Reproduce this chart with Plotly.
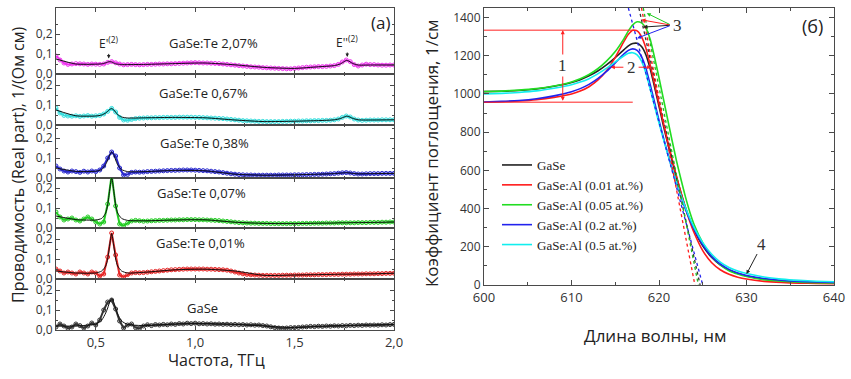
import numpy as np
import plotly.graph_objects as go

# ---------------- (a) THz conductivity, GaSe:Te ----------------
freq = np.round(np.arange(0.30, 2.0001, 0.02), 2)          # THz
fit_freq = [0.30, 0.40, 0.50, 0.53, 0.55, 0.56, 0.57, 0.58, 0.59, 0.60, 0.61, 0.63,
            0.66, 0.75, 0.90, 1.05, 1.20, 1.35, 1.50, 1.62, 1.70, 1.73, 1.75, 1.76,
            1.77, 1.79, 1.82, 1.90, 2.00]

sigma_te207 = [0.090, 0.070, 0.055, 0.048, 0.050, 0.052, 0.051, 0.050, 0.048, 0.050,
               0.049, 0.048, 0.050, 0.058, 0.062, 0.056, 0.050, 0.046, 0.047, 0.048,
               0.047, 0.046, 0.047, 0.048, 0.048, 0.049, 0.050, 0.050, 0.051, 0.051,
               0.052, 0.053, 0.054, 0.055, 0.056, 0.057, 0.056, 0.055, 0.055, 0.054,
               0.053, 0.052, 0.050, 0.048, 0.046, 0.044, 0.042, 0.040, 0.038, 0.036,
               0.035, 0.034, 0.032, 0.031, 0.030, 0.029, 0.028, 0.027, 0.026, 0.026,
               0.028, 0.030, 0.032, 0.034, 0.035, 0.036, 0.037, 0.037, 0.038, 0.040,
               0.042, 0.048, 0.060, 0.070, 0.062, 0.047, 0.040, 0.045, 0.049, 0.047,
               0.047, 0.045, 0.044, 0.044, 0.045, 0.045]
fit_te207 = [0.075, 0.050, 0.049, 0.051, 0.056, 0.060, 0.062, 0.060, 0.055, 0.051, 0.049,
             0.047, 0.047, 0.048, 0.052, 0.055, 0.046, 0.033, 0.028, 0.036, 0.042, 0.050,
             0.062, 0.068, 0.066, 0.054, 0.045, 0.045, 0.045]

sigma_te067 = [0.085, 0.060, 0.048, 0.045, 0.044, 0.046, 0.043, 0.045, 0.047, 0.044,
               0.046, 0.048, 0.055, 0.068, 0.083, 0.065, 0.038, 0.025, 0.024, 0.028,
               0.032, 0.034, 0.035, 0.036, 0.036, 0.037, 0.037, 0.038, 0.038, 0.038,
               0.038, 0.039, 0.039, 0.039, 0.039, 0.038, 0.038, 0.037, 0.036, 0.035,
               0.034, 0.033, 0.032, 0.030, 0.028, 0.026, 0.024, 0.022, 0.021, 0.020,
               0.019, 0.018, 0.018, 0.017, 0.017, 0.017, 0.017, 0.018, 0.018, 0.019,
               0.019, 0.020, 0.020, 0.021, 0.021, 0.022, 0.022, 0.023, 0.023, 0.024,
               0.026, 0.030, 0.038, 0.045, 0.040, 0.030, 0.025, 0.023, 0.024, 0.025,
               0.025, 0.025, 0.026, 0.026, 0.026, 0.026]
fit_te067 = [0.075, 0.046, 0.045, 0.050, 0.060, 0.068, 0.078, 0.082, 0.076, 0.064, 0.052,
             0.040, 0.035, 0.036, 0.038, 0.036, 0.025, 0.017, 0.019, 0.022, 0.026, 0.032,
             0.040, 0.044, 0.043, 0.034, 0.026, 0.025, 0.026]

sigma_te038 = [0.060, 0.045, 0.035, 0.030, 0.035, 0.032, 0.028, 0.034, 0.030, 0.035,
               0.032, 0.040, 0.060, 0.100, 0.130, 0.110, 0.050, 0.015, 0.018, 0.028,
               0.030, 0.029, 0.030, 0.032, 0.033, 0.034, 0.035, 0.036, 0.037, 0.038,
               0.038, 0.039, 0.040, 0.040, 0.040, 0.039, 0.038, 0.037, 0.036, 0.034,
               0.032, 0.030, 0.027, 0.024, 0.021, 0.019, 0.017, 0.016, 0.015, 0.015,
               0.014, 0.014, 0.014, 0.014, 0.014, 0.014, 0.015, 0.015, 0.015, 0.015,
               0.016, 0.016, 0.016, 0.017, 0.017, 0.018, 0.018, 0.019, 0.020, 0.021,
               0.022, 0.024, 0.026, 0.027, 0.025, 0.022, 0.020, 0.020, 0.021, 0.022,
               0.022, 0.022, 0.023, 0.023, 0.023, 0.023]
fit_te038 = [0.050, 0.033, 0.034, 0.042, 0.068, 0.090, 0.115, 0.130, 0.118, 0.090, 0.066,
             0.042, 0.032, 0.032, 0.038, 0.036, 0.019, 0.014, 0.016, 0.019, 0.022, 0.024,
             0.026, 0.027, 0.026, 0.023, 0.021, 0.022, 0.023]

sigma_te007 = [0.080, 0.055, 0.040, 0.045, 0.050, 0.040, 0.035, 0.045, 0.055, 0.045,
               0.030, 0.020, 0.030, 0.120, 0.265, 0.110, 0.020, 0.012, 0.025, 0.035,
               0.038, 0.036, 0.034, 0.035, 0.036, 0.037, 0.038, 0.038, 0.039, 0.040,
               0.040, 0.041, 0.041, 0.042, 0.042, 0.042, 0.041, 0.041, 0.040, 0.039,
               0.038, 0.037, 0.035, 0.033, 0.031, 0.029, 0.027, 0.026, 0.025, 0.024,
               0.024, 0.023, 0.023, 0.023, 0.022, 0.022, 0.022, 0.022, 0.022, 0.022,
               0.022, 0.022, 0.023, 0.023, 0.023, 0.024, 0.024, 0.024, 0.025, 0.025,
               0.025, 0.026, 0.026, 0.026, 0.026, 0.026, 0.027, 0.027, 0.027, 0.028,
               0.028, 0.028, 0.029, 0.029, 0.030, 0.030]
fit_te007 = [0.060, 0.042, 0.040, 0.048, 0.075, 0.115, 0.190, 0.255, 0.190, 0.115, 0.075,
             0.048, 0.038, 0.036, 0.040, 0.041, 0.029, 0.023, 0.022, 0.024, 0.025, 0.026,
             0.026, 0.026, 0.026, 0.027, 0.027, 0.028, 0.030]

sigma_te001 = [0.050, 0.040, 0.030, 0.035, 0.030, 0.025, 0.035, 0.030, 0.025, 0.035,
               0.030, 0.015, 0.025, 0.110, 0.230, 0.120, 0.020, 0.010, 0.022, 0.030,
               0.032, 0.031, 0.032, 0.034, 0.036, 0.038, 0.040, 0.042, 0.044, 0.046,
               0.047, 0.048, 0.049, 0.050, 0.050, 0.050, 0.050, 0.050, 0.049, 0.049,
               0.048, 0.047, 0.046, 0.044, 0.040, 0.035, 0.030, 0.026, 0.023, 0.021,
               0.020, 0.019, 0.018, 0.018, 0.018, 0.018, 0.018, 0.019, 0.019, 0.019,
               0.020, 0.020, 0.020, 0.021, 0.021, 0.021, 0.022, 0.022, 0.022, 0.023,
               0.023, 0.023, 0.024, 0.024, 0.024, 0.025, 0.025, 0.025, 0.026, 0.026,
               0.026, 0.027, 0.027, 0.028, 0.028, 0.029]
fit_te001 = [0.040, 0.030, 0.030, 0.040, 0.065, 0.100, 0.170, 0.228, 0.170, 0.100, 0.065,
             0.040, 0.030, 0.034, 0.046, 0.049, 0.040, 0.018, 0.020, 0.022, 0.023, 0.024,
             0.024, 0.024, 0.024, 0.025, 0.025, 0.026, 0.029]

sigma_gase = [0.015, 0.030, 0.020, 0.008, 0.015, 0.030, 0.022, 0.010, 0.020, 0.035,
              0.025, 0.050, 0.100, 0.140, 0.150, 0.105, 0.045, 0.010, 0.025, 0.030,
              0.012, 0.008, 0.020, 0.026, 0.022, 0.027, 0.025, 0.028, 0.026, 0.030,
              0.028, 0.032, 0.030, 0.034, 0.032, 0.034, 0.031, 0.032, 0.030, 0.031,
              0.029, 0.030, 0.028, 0.029, 0.027, 0.028, 0.026, 0.027, 0.025, 0.026,
              0.024, 0.025, 0.022, 0.020, 0.016, 0.012, 0.010, 0.009, 0.010, 0.012,
              0.012, 0.013, 0.015, 0.016, 0.018, 0.017, 0.019, 0.018, 0.020, 0.019,
              0.021, 0.020, 0.022, 0.021, 0.023, 0.022, 0.024, 0.023, 0.025, 0.024,
              0.025, 0.024, 0.026, 0.025, 0.027, 0.028]
fit_gase = [0.020, 0.020, 0.030, 0.050, 0.085, 0.110, 0.140, 0.158, 0.140, 0.110, 0.080,
            0.045, 0.028, 0.022, 0.030, 0.032, 0.028, 0.020, 0.012, 0.018, 0.021, 0.022,
            0.022, 0.022, 0.023, 0.023, 0.024, 0.025, 0.027]

thz_labels = ["GaSe:Te 2,07%", "GaSe:Te 0,67%", "GaSe:Te 0,38%",
              "GaSe:Te 0,07%", "GaSe:Te 0,01%", "GaSe"]
thz_colors = ["#ee33ee", "#33dddd", "#2626cc", "#22cc22", "#e62626", "#333333"]
thz_data = [sigma_te207, sigma_te067, sigma_te038, sigma_te007, sigma_te001, sigma_gase]
thz_fits = [fit_te207, fit_te067, fit_te038, fit_te007, fit_te001, fit_gase]

# ---------------- (б) absorption edge, GaSe:Al ----------------
wl = [600, 602, 604, 606, 608, 610, 611, 612, 613, 614, 615, 616, 616.5, 617, 617.5,
      618, 618.5, 619, 619.5, 620, 620.5, 621, 621.5, 622, 622.5, 623, 623.5, 624,
      625, 626, 627, 628, 629, 630, 632, 634, 636, 638, 640]
alpha_gase = [1012, 1014, 1018, 1026, 1040, 1060, 1075, 1095, 1120, 1152, 1190, 1232,
              1252, 1264, 1265, 1248, 1205, 1130, 1035, 935, 835, 740, 650, 565, 485,
              410, 345, 290, 205, 145, 105, 78, 60, 47, 30, 21, 16, 13, 11]
alpha_al001 = [957, 959, 963, 970, 982, 1000, 1015, 1038, 1072, 1122, 1192, 1275, 1312,
               1334, 1330, 1300, 1240, 1150, 1050, 950, 850, 752, 658, 568, 485, 405,
               335, 275, 180, 118, 80, 56, 41, 31, 19, 13, 10, 8, 7]
alpha_al005 = [1013, 1015, 1020, 1028, 1042, 1063, 1080, 1102, 1132, 1172, 1222, 1290,
               1330, 1362, 1378, 1372, 1345, 1285, 1190, 1085, 975, 865, 755, 650, 555,
               465, 385, 318, 220, 150, 105, 75, 57, 44, 28, 20, 15, 12, 11]
alpha_al02 = [958, 961, 966, 975, 990, 1012, 1028, 1050, 1080, 1118, 1163, 1210, 1228,
              1236, 1228, 1195, 1135, 1048, 955, 862, 772, 688, 608, 535, 465, 400, 343,
              292, 210, 150, 110, 82, 63, 50, 34, 25, 19, 16, 14]
alpha_al05 = [1000, 1003, 1008, 1016, 1030, 1048, 1062, 1080, 1105, 1135, 1168, 1200,
              1213, 1216, 1205, 1172, 1110, 1025, 935, 848, 765, 685, 608, 537, 470, 408,
              352, 302, 222, 162, 120, 92, 73, 60, 42, 31, 24, 20, 17]

abs_names = ["GaSe", "GaSe:Al (0.01 at.%)", "GaSe:Al (0.05 at.%)",
             "GaSe:Al (0.2 at.%)", "GaSe:Al (0.5 at.%)"]
abs_colors = ["#222222", "#ff1a1a", "#22dd22", "#2222ee", "#11eeee"]
abs_data = [alpha_gase, alpha_al001, alpha_al005, alpha_al02, alpha_al05]

# linear extrapolation of the edge: wavelength at the top of the frame and at alpha = 0
tangent_colors = ["#2222ee", "#333333", "#ff1a1a", "#22bb22"]
tangent_top_nm = [616.5, 617.7, 618.0, 618.2]
tangent_zero_nm = [625.0, 624.7, 624.1, 624.5]
tangent_top_alpha = 1450

# ---------------- layout helpers ----------------
W, H = 851, 379
def fx(px):
    return px / W
def fy(px):
    return 1 - px / H

SANS = "Open Sans"
SERIF = "Liberation Serif"
AX = "#4a4a4a"

fig = go.Figure()
layout = dict(width=W, height=H, margin=dict(l=0, r=0, t=0, b=0, pad=0),
              paper_bgcolor="white", plot_bgcolor="white", separators=",.",
              showlegend=True)

bounds = [8, 74, 125, 178, 228, 279, 330]
left_dom = [fx(56), fx(394)]
for i in range(6):
    n = i + 1
    top_px, bot_px = bounds[i], bounds[i + 1]
    ymax = (bot_px - top_px) / 200.0
    sfx = "" if n == 1 else str(n)
    fig.add_trace(go.Scatter(
        x=freq, y=thz_data[i], xaxis="x" + sfx, yaxis="y" + sfx, mode="lines+markers",
        line=dict(color=thz_colors[i], width=2),
        marker=dict(symbol="circle-open", size=4, color=thz_colors[i], line=dict(width=1)),
        showlegend=False, hoverinfo="skip"))
    fig.add_trace(go.Scatter(
        x=fit_freq, y=thz_fits[i], xaxis="x" + sfx, yaxis="y" + sfx, mode="lines",
        line=dict(color="#111111", width=1, shape="spline", smoothing=0.6),
        showlegend=False, hoverinfo="skip"))
    layout["xaxis" + sfx] = dict(
        domain=left_dom, anchor="y" + sfx, range=[0.3, 2.0], showline=True,
        linecolor=AX, linewidth=1, mirror="ticks", ticks="inside", ticklen=4,
        tickcolor=AX, dtick=0.5, tick0=0, tickformat=".1f", showgrid=False,
        zeroline=False, showticklabels=(n == 6), automargin=False,
        tickfont=dict(family=SANS, size=13, color="#333"),
        minor=dict(ticks="inside", ticklen=2, dtick=0.25, tick0=0, tickcolor=AX))
    layout["yaxis" + sfx] = dict(
        domain=[fy(bot_px), fy(top_px)], anchor="x" + sfx, range=[0, ymax],
        showline=True, linecolor=AX, linewidth=1, mirror="ticks", ticks="inside",
        ticklen=4, tickcolor=AX, tickvals=[0, 0.1, 0.2], tickformat=".1f",
        showgrid=False, zeroline=False, automargin=False,
        tickfont=dict(family=SANS, size=12, color="#333"),
        minor=dict(ticks="inside", ticklen=2, tickvals=[0.05, 0.15, 0.25], tickcolor=AX))

# right panel
for name, col, ys in zip(abs_names, abs_colors, abs_data):
    fig.add_trace(go.Scatter(
        x=wl, y=ys, xaxis="x7", yaxis="y7", mode="lines", name=name,
        line=dict(color=col, width=1.6, shape="spline", smoothing=0.5), hoverinfo="skip"))
for col, t0, t1 in zip(tangent_colors, tangent_top_nm, tangent_zero_nm):
    fig.add_trace(go.Scatter(
        x=[t0, t1], y=[tangent_top_alpha, 0], xaxis="x7", yaxis="y7", mode="lines",
        line=dict(color=col, width=1.3, dash="dot"), showlegend=False, hoverinfo="skip"))

# peak height / baseline levels of the 0.01 at.% curve
red_peak = max(alpha_al001)
red_base = alpha_al001[0]
level_end_nm = 617.0
for lvl in (red_peak, red_base):
    fig.add_trace(go.Scatter(
        x=[600, level_end_nm], y=[lvl, lvl], xaxis="x7", yaxis="y7", mode="lines",
        line=dict(color="#ff2020", width=1), showlegend=False, hoverinfo="skip"))

layout["xaxis7"] = dict(
    domain=[fx(484), fx(834)], anchor="y7", range=[600, 640], showline=True,
    linecolor=AX, linewidth=1, mirror="ticks", ticks="inside", ticklen=5, tickcolor=AX,
    dtick=10, showgrid=False, zeroline=False, automargin=False,
    tickfont=dict(family=SANS, size=13, color="#333"),
    minor=dict(ticks="inside", ticklen=3, dtick=5, tickcolor=AX))
layout["yaxis7"] = dict(
    domain=[fy(285), fy(8)], anchor="x7", range=[0, 1450], showline=True,
    linecolor=AX, linewidth=1, mirror="ticks", ticks="inside", ticklen=5, tickcolor=AX,
    dtick=200, showgrid=False, zeroline=False, tickformat="d", automargin=False,
    tickfont=dict(family=SANS, size=12, color="#333"),
    minor=dict(ticks="inside", ticklen=3, dtick=100, tickcolor=AX))

layout["legend"] = dict(x=fx(497), y=fy(150), xanchor="left", yanchor="top",
                        bgcolor="rgba(0,0,0,0)", font=dict(family=SERIF, size=13, color="#222"),
                        tracegroupgap=0, itemwidth=30)

ann = []

def paper_text(text, px, py, size, family=SANS, angle=0):
    ann.append(dict(text=text, x=fx(px), y=fy(py), xref="paper", yref="paper",
                    xanchor="center", yanchor="middle", textangle=angle,
                    showarrow=False, font=dict(family=family, size=size, color="#222")))

# axis titles and panel tags
paper_text("Проводимость (Real part), 1/(Ом см)", 18, 165, 16, angle=-90)
paper_text("Частота, ТГц", 216, 360, 16)
paper_text("Коэффициент поглощения, 1/см", 431, 153, 17, angle=-90)
paper_text("Длина волны, нм", 655, 335, 17)
paper_text("(a)", 380, 23, 17)
paper_text("(б)", 812, 26, 18)

# sample labels in the stacked panels
label_pos = [(213, 43), (203, 93), (204, 143), (201, 193), (200, 243), (202, 308)]
for txt, (lx, ly) in zip(thz_labels, label_pos):
    paper_text(txt, lx, ly, 13)

# phonon mode markers
ann.append(dict(text="E'<sup>(2)</sup>", x=0.565, y=0.078, xref="x", yref="y",
                showarrow=True, arrowhead=2, arrowsize=0.7, arrowwidth=1, arrowcolor="#222",
                ax=0, ay=-15, font=dict(family=SANS, size=12, color="#222")))
ann.append(dict(text="E''<sup>(2)</sup>", x=1.765, y=0.085, xref="x", yref="y",
                showarrow=True, arrowhead=2, arrowsize=0.7, arrowwidth=1, arrowcolor="#222",
                ax=0, ay=-15, font=dict(family=SANS, size=12, color="#222")))

# (б) annotations
RED = "#ff2020"
def data_arrow(hx, hy, tx, ty, color, both=False):
    ann.append(dict(text="", x=hx, y=hy, ax=tx, ay=ty, xref="x7", yref="y7",
                    axref="x7", ayref="y7", showarrow=True, arrowhead=2,
                    arrowside="end+start" if both else "end",
                    arrowsize=0.8, arrowwidth=1, arrowcolor=color))

def data_text(text, x, y, bg=None):
    d = dict(text=text, x=x, y=y, xref="x7", yref="y7", showarrow=False,
             xanchor="center", yanchor="middle",
             font=dict(family=SERIF, size=17, color="#333"))
    if bg:
        d["bgcolor"] = bg
    ann.append(d)

data_arrow(609, red_peak, 609, red_base, RED, both=True)
data_text("1", 609, 1149, bg="white")
data_arrow(614.5, 1140, 616.1, 1140, RED)
data_arrow(619.1, 1140, 617.5, 1140, RED)
data_text("2", 616.8, 1140)
arrow3 = [("#22cc22", 618.6, 1423), ("#ff2020", 618.0, 1388),
          ("#222222", 618.2, 1350), ("#2222ee", 617.5, 1292)]
for col, hx, hy in arrow3:
    data_arrow(hx, hy, 621.4, 1360, col)
data_text("3", 622.1, 1360)
data_arrow(630.0, 57, 631.3, 170, "#222")
data_text("4", 631.7, 212)

layout["annotations"] = ann
fig.update_layout(**layout)
fig.write_html("out.html")
